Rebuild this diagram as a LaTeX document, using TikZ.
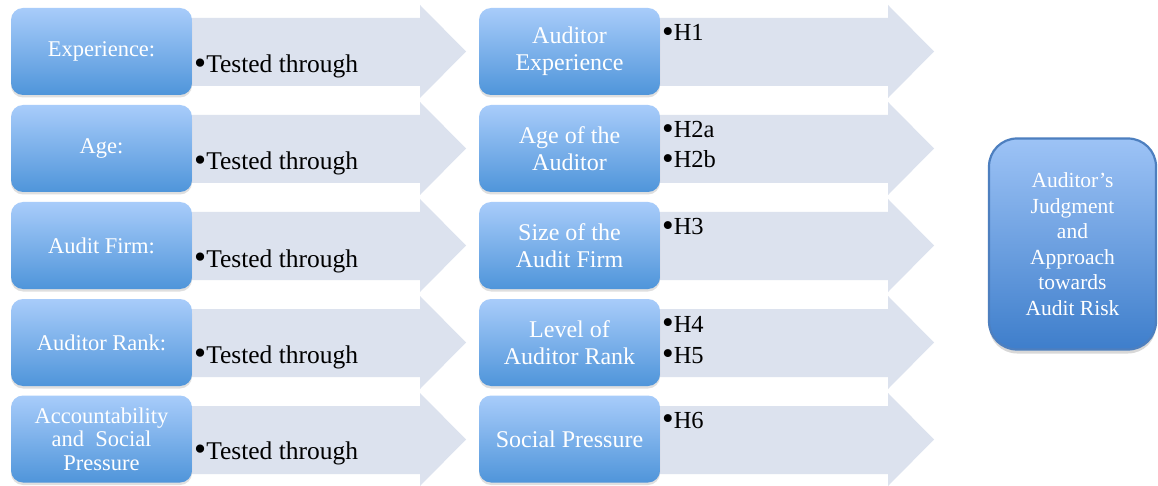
\documentclass[tikz,border=0pt]{standalone}
\usepackage{fontspec}
\setmainfont{Liberation Serif}
\usetikzlibrary{shadows}
\definecolor{boxtop}{HTML}{A8CCFA}
\definecolor{boxbot}{HTML}{4F95DA}
\definecolor{arrowfill}{HTML}{DCE2EE}
\definecolor{bigtop}{HTML}{9DC3F6}
\definecolor{bigbot}{HTML}{3E7ECB}
\definecolor{bigedge}{HTML}{4D7FBF}
\newcommand\mybul{\raisebox{-1.3pt}{\scalebox{1.35}{•}}}
\begin{document}
\begin{tikzpicture}[x=1pt,y=-1pt,
  vbox/.style={rounded corners=12pt, top color=boxtop, bottom color=boxbot,
    minimum width=181pt, minimum height=87pt, inner sep=0pt, text=white, align=center,
    font=\fontsize{22.5}{23.5}\selectfont,
    drop shadow={opacity=0.25, shadow xshift=0pt, shadow yshift=-2.5pt}},
  mbox/.style={vbox, font=\fontsize{24}{27}\selectfont},
  bigbox/.style={rounded corners=28pt, top color=bigtop, bottom color=bigbot,
    draw=bigedge, line width=2.2pt, minimum width=167pt, minimum height=211pt,
    inner sep=0pt, text=white, align=center, font=\fontsize{21.5}{25.5}\selectfont,
    drop shadow={opacity=0.3, shadow xshift=0pt, shadow yshift=-4pt}},
  btext/.style={anchor=base west, inner sep=0pt, text=black, font=\fontsize{25.5}{28}\selectfont},
  htext/.style={btext, font=\fontsize{24.5}{28}\selectfont},
  arr/.style={fill=arrowfill, draw=none}
]
\useasboundingbox (0,0) rectangle (1158,486);
\fill[white] (0,0) rectangle (1158,486);
% arrows
\foreach \i in {0,...,4}{
  \pgfmathsetmacro{\t}{8+97*\i}
  \path[arr] (150,\t+10) -- (420,\t+10) -- (420,\t-3) -- (466,\t+43.5) -- (420,\t+90) -- (420,\t+78) -- (150,\t+78) -- cycle;
  \path[arr] (620,\t+10) -- (888,\t+10) -- (888,\t-3) -- (934,\t+43.5) -- (888,\t+90) -- (888,\t+78) -- (620,\t+78) -- cycle;
}
% left boxes
\node[vbox] (l1) at (101.5,51.5) {Experience:};
\node[vbox] (l2) at (101.5,148.5) {Age:};
\node[vbox] (l3) at (101.5,245.5) {Audit Firm:};
\node[vbox] (l4) at (101.5,342.5) {Auditor Rank:};
\node[vbox] (l5) at (101.5,439) {Accountability\\and\ \ Social\\Pressure};
% middle boxes
\node[mbox] (m1) at (569.5,51.5) {Auditor\\Experience};
\node[mbox] (m2) at (569.5,148.5) {Age of the\\Auditor};
\node[mbox] (m3) at (569.5,245.5) {Size of the\\Audit Firm};
\node[mbox] (m4) at (569.5,342.5) {Level of\\Auditor Rank};
\node[mbox] (m5) at (569.5,439) {Social Pressure};
% right box
\node[bigbox] (r) at (1072.5,244) {Auditor’s\\Judgment\\and\\Approach\\towards\\Audit Risk};
% tested through
\node[btext] (t1) at (194,73) {\mybul Tested through};
\node[btext] (t2) at (194,170) {\mybul Tested through};
\node[btext] (t3) at (194,267) {\mybul Tested through};
\node[btext] (t4) at (194,363) {\mybul Tested through};
\node[btext] (t5) at (194,459) {\mybul Tested through};
% hypotheses
\node[htext] (h1) at (662,41) {\mybul H1};
\node[htext] (h2a) at (662,138) {\mybul H2a};
\node[htext] (h2b) at (662,168) {\mybul H2b};
\node[htext] (h3) at (662,235) {\mybul H3};
\node[htext] (h4) at (662,332) {\mybul H4};
\node[htext] (h5) at (662,363) {\mybul H5};
\node[htext] (h6) at (662,428) {\mybul H6};
\end{tikzpicture}
\end{document}
